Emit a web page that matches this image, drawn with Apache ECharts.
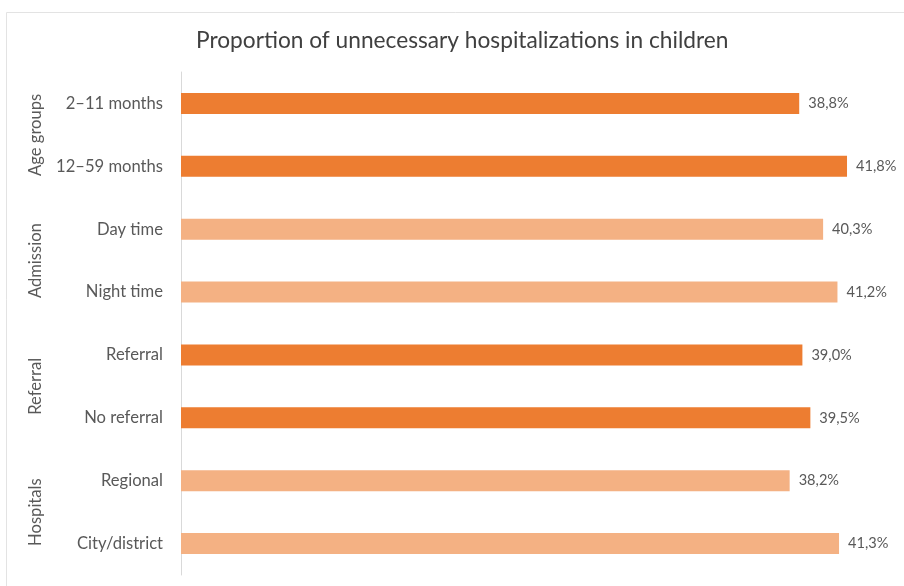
<!DOCTYPE html>
<html>
<head>
<meta charset="utf-8">
<script src="https://cdn.jsdelivr.net/npm/echarts@6/dist/echarts.min.js"></script>
<style>
  html, body { margin: 0; padding: 0; background: #ffffff; }
  #chart { width: 904px; height: 586px; }
</style>
</head>
<body>
<div id="chart"></div>
<script>
// Subgroup labels, top to bottom
const categories = ['2–11 months', '12–59 months', 'Day time', 'Night time', 'Referral', 'No referral', 'Regional', 'City/district'];
// Share of unnecessary hospitalizations, %
const values = [38.8, 41.8, 40.3, 41.2, 39.0, 39.5, 38.2, 41.3];
// Grouping of the rows (two rows per group)
const groups = ['Age groups', 'Admission', 'Referral', 'Hospitals'];
const groupShade = ['dark', 'light', 'dark', 'light'];

const shades = { dark: '#ED7D31', light: '#F4B183' };
const font = 'Lato, "Open Sans", sans-serif';

const chart = echarts.init(document.getElementById('chart'), null, { renderer: 'canvas' });

const barData = values.map((v, i) => ({
  value: v,
  itemStyle: { color: shades[groupShade[Math.floor(i / 2)]] }
}));

chart.setOption({
  animation: false,
  backgroundColor: '#ffffff',
  title: {
    text: 'Proportion of unnecessary hospitalizations in children',
    left: 191,
    top: 24,
    textStyle: { fontFamily: font, fontSize: 22.7, fontWeight: 'normal', color: '#404040' }
  },
  graphic: [{
    // frame: left and top edges of the chart area
    type: 'polyline',
    shape: { points: [[6.5, 586], [6.5, 12.5], [904, 12.5]] },
    style: { fill: 'none', stroke: '#e3e3e3', lineWidth: 1 },
    silent: true,
    z: -1
  }],
  grid: { left: 181, top: 72, width: 717, height: 503, containLabel: false },
  xAxis: {
    type: 'value',
    min: 0,
    max: 45,
    show: false
  },
  yAxis: [{
    type: 'category',
    data: categories,
    inverse: true,
    axisLine: { show: true, lineStyle: { color: '#d9d9d9', width: 1 } },
    axisTick: { show: false },
    axisLabel: { fontFamily: font, fontSize: 16.6, color: '#595959', margin: 18 }
  }, {
    type: 'category',
    data: groups,
    inverse: true,
    position: 'left',
    offset: 137,
    axisLine: { show: false },
    axisTick: { show: false },
    axisLabel: { fontFamily: font, fontSize: 16.6, color: '#595959', rotate: 90, margin: 0, align: 'center', verticalAlign: 'bottom' }
  }],
  series: [{
    type: 'bar',
    yAxisIndex: 0,
    data: barData,
    barWidth: 21,
    label: {
      show: true,
      position: 'right',
      distance: 9,
      fontFamily: font,
      fontSize: 14.6,
      color: '#595959',
      formatter: p => p.value.toFixed(1).replace('.', ',') + '%'
    }
  }]
});
</script>
</body>
</html>
